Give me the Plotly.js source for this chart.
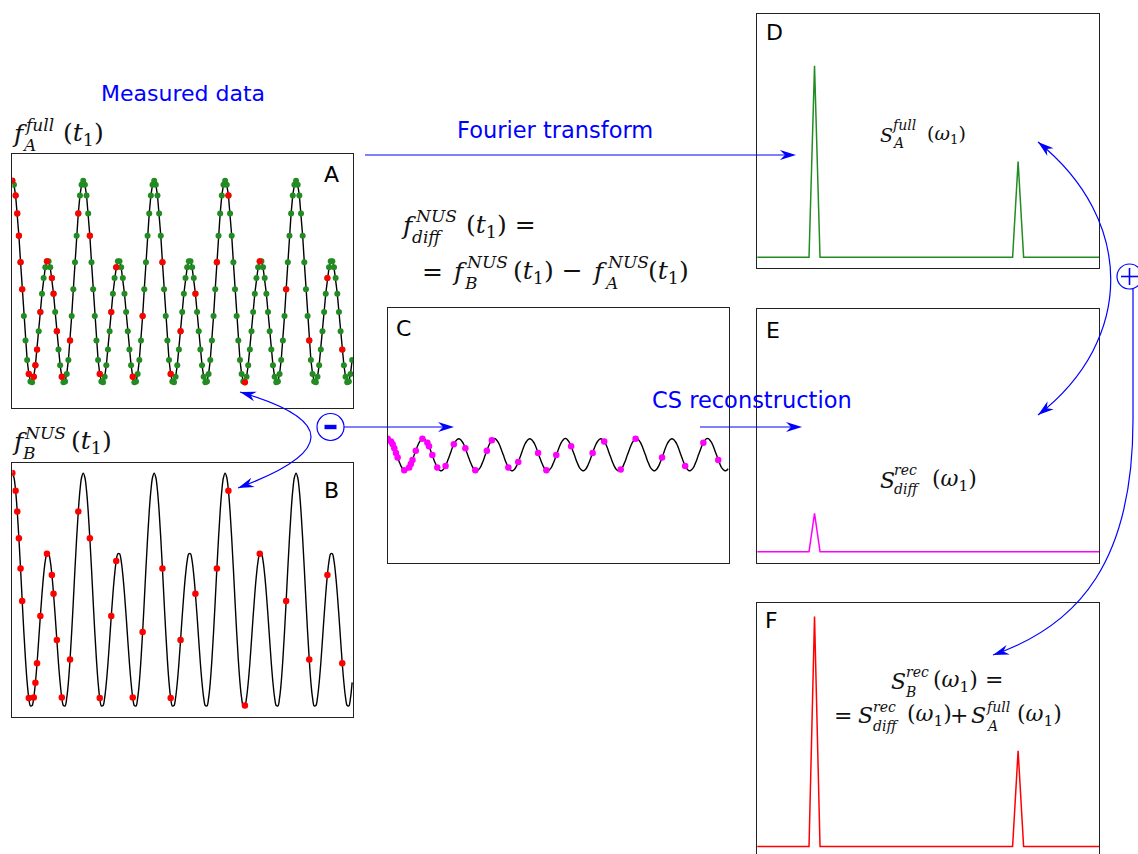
<!DOCTYPE html>
<html><head><meta charset="utf-8">
<script src="https://cdn.plot.ly/plotly-3.0.1.min.js"></script>
<style>html,body{margin:0;padding:0;overflow:hidden;background:#fff;}#chart{width:1138px;height:860px;}</style>
</head><body><div id="chart"></div>
<script>
// ---- time-domain signal samples (sample index 0..206) ----
const fullA = [
3.00,2.90,2.63,2.18,1.62,0.96,0.28,-0.39,-1.00,-1.49,-1.84,-2.03,-2.05,-1.91,-1.62,-1.23,-0.77,-0.29,0.17,0.56,0.83,0.98,0.98,0.83,0.56,0.17,-0.29,-0.77,-1.23,-1.62,-1.91,-2.05,-2.03,-1.84,-1.49,-1.00,-0.39,0.28,0.96,1.62,2.18,2.63,2.90,
3.00,2.90,2.63,2.18,1.62,0.96,0.28,-0.39,-1.00,-1.49,-1.84,-2.03,-2.05,-1.91,-1.62,-1.23,-0.77,-0.29,0.17,0.56,0.83,0.98,0.98,0.83,0.56,0.17,-0.29,-0.77,-1.23,-1.62,-1.91,-2.05,-2.03,-1.84,-1.49,-1.00,-0.39,0.28,0.96,1.62,2.18,2.63,2.90,
3.00,2.90,2.63,2.18,1.62,0.96,0.28,-0.39,-1.00,-1.49,-1.84,-2.03,-2.05,-1.91,-1.62,-1.23,-0.77,-0.29,0.17,0.56,0.83,0.98,0.98,0.83,0.56,0.17,-0.29,-0.77,-1.23,-1.62,-1.91,-2.05,-2.03,-1.84,-1.49,-1.00,-0.39,0.28,0.96,1.62,2.18,2.63,2.90,
3.00,2.90,2.63,2.18,1.62,0.96,0.28,-0.39,-1.00,-1.49,-1.84,-2.03,-2.05,-1.91,-1.62,-1.23,-0.77,-0.29,0.17,0.56,0.83,0.98,0.98,0.83,0.56,0.17,-0.29,-0.77,-1.23,-1.62,-1.91,-2.05,-2.03,-1.84,-1.49,-1.00,-0.39,0.28,0.96,1.62,2.18,2.63,2.90,
3.00,2.90,2.63,2.18,1.62,0.96,0.28,-0.39,-1.00,-1.49,-1.84,-2.03,-2.05,-1.91,-1.62,-1.23,-0.77,-0.29,0.17,0.56,0.83,0.98,0.98,0.83,0.56,0.17,-0.29,-0.77,-1.23,-1.62,-1.91,-2.05,-2.03,-1.84,-1.49
];
const curveB = [
3.40,3.29,2.96,2.44,1.77,1.01,0.20,-0.58,-1.27,-1.84,-2.23,-2.43,-2.42,-2.22,-1.85,-1.36,-0.78,-0.18,0.38,0.85,1.20,1.38,1.38,1.20,0.85,0.38,-0.18,-0.78,-1.36,-1.85,-2.22,-2.42,-2.43,-2.23,-1.84,-1.27,-0.58,0.20,1.01,1.77,2.44,2.96,3.29,
3.40,3.29,2.96,2.44,1.77,1.01,0.20,-0.58,-1.27,-1.84,-2.23,-2.43,-2.42,-2.22,-1.85,-1.36,-0.78,-0.18,0.38,0.85,1.20,1.38,1.38,1.20,0.85,0.38,-0.18,-0.78,-1.36,-1.85,-2.22,-2.42,-2.43,-2.23,-1.84,-1.27,-0.58,0.20,1.01,1.77,2.44,2.96,3.29,
3.40,3.29,2.96,2.44,1.77,1.01,0.20,-0.58,-1.27,-1.84,-2.23,-2.43,-2.42,-2.22,-1.85,-1.36,-0.78,-0.18,0.38,0.85,1.20,1.38,1.38,1.20,0.85,0.38,-0.18,-0.78,-1.36,-1.85,-2.22,-2.42,-2.43,-2.23,-1.84,-1.27,-0.58,0.20,1.01,1.77,2.44,2.96,3.29,
3.40,3.29,2.96,2.44,1.77,1.01,0.20,-0.58,-1.27,-1.84,-2.23,-2.43,-2.42,-2.22,-1.85,-1.36,-0.78,-0.18,0.38,0.85,1.20,1.38,1.38,1.20,0.85,0.38,-0.18,-0.78,-1.36,-1.85,-2.22,-2.42,-2.43,-2.23,-1.84,-1.27,-0.58,0.20,1.01,1.77,2.44,2.96,3.29,
3.40,3.29,2.96,2.44,1.77,1.01,0.20,-0.58,-1.27,-1.84,-2.23,-2.43,-2.42,-2.22,-1.85,-1.36,-0.78,-0.18,0.38,0.85,1.20,1.38,1.38,1.20,0.85,0.38,-0.18,-0.78,-1.36,-1.85,-2.22,-2.42,-2.43,-2.23,-1.84
];
const curveDiff = [
0.40,0.38,0.33,0.26,0.16,0.04,-0.07,-0.18,-0.28,-0.35,-0.39,-0.40,-0.37,-0.32,-0.23,-0.13,-0.01,0.10,0.21,0.30,0.36,0.40,0.40,0.36,0.30,0.21,0.10,-0.01,-0.13,-0.23,-0.32,-0.37,-0.40,-0.39,-0.35,-0.28,-0.18,-0.07,0.04,0.16,0.26,0.33,0.38,
0.40,0.38,0.33,0.26,0.16,0.04,-0.07,-0.18,-0.28,-0.35,-0.39,-0.40,-0.37,-0.32,-0.23,-0.13,-0.01,0.10,0.21,0.30,0.36,0.40,0.40,0.36,0.30,0.21,0.10,-0.01,-0.13,-0.23,-0.32,-0.37,-0.40,-0.39,-0.35,-0.28,-0.18,-0.07,0.04,0.16,0.26,0.33,0.38,
0.40,0.38,0.33,0.26,0.16,0.04,-0.07,-0.18,-0.28,-0.35,-0.39,-0.40,-0.37,-0.32,-0.23,-0.13,-0.01,0.10,0.21,0.30,0.36,0.40,0.40,0.36,0.30,0.21,0.10,-0.01,-0.13,-0.23,-0.32,-0.37,-0.40,-0.39,-0.35,-0.28,-0.18,-0.07,0.04,0.16,0.26,0.33,0.38,
0.40,0.38,0.33,0.26,0.16,0.04,-0.07,-0.18,-0.28,-0.35,-0.39,-0.40,-0.37,-0.32,-0.23,-0.13,-0.01,0.10,0.21,0.30,0.36,0.40,0.40,0.36,0.30,0.21,0.10,-0.01,-0.13,-0.23,-0.32,-0.37,-0.40,-0.39,-0.35,-0.28,-0.18,-0.07,0.04,0.16,0.26,0.33,0.38,
0.40,0.38,0.33,0.26,0.16,0.04,-0.07,-0.18,-0.28,-0.35,-0.39,-0.40,-0.37,-0.32,-0.23,-0.13,-0.01,0.10,0.21,0.30,0.36,0.40,0.40,0.36,0.30,0.21,0.10,-0.01,-0.13,-0.23,-0.32,-0.37,-0.40,-0.39,-0.35
];
// non-uniform sampling schedule (sample indices)
const nusIdx = [0,2,3,4,5,6,10,13,14,15,17,21,24,25,27,30,35,40,47,53,60,63,73,79,91,96,102,111,124,131,141,150,166,180,191,200];

// ---- spectra ----
const omega = [0,1,2,3,4,5,6,7,8,9,10,11,12,13,14,15,16,17,18,19,20,21,22,23,24,25,26,27,28,29,30,31,32,33,34,35,36,37,38,39,40,41,42,43,44,45,46,47,48,49,50,51,52,53,54,55,56,57,58,59,60,61,62,63];
const specFullA   = [0,0,0,0,0,0,0,0,0,0,0,2.0,0,0,0,0,0,0,0,0,0,0,0,0,0,0,0,0,0,0,0,0,0,0,0,0,0,0,0,0,0,0,0,0,0,0,0,0,1.0,0,0,0,0,0,0,0,0,0,0,0,0,0,0,0];
const specRecDiff = [0,0,0,0,0,0,0,0,0,0,0,0.4,0,0,0,0,0,0,0,0,0,0,0,0,0,0,0,0,0,0,0,0,0,0,0,0,0,0,0,0,0,0,0,0,0,0,0,0,0,0,0,0,0,0,0,0,0,0,0,0,0,0,0,0];
const specRecB    = [0,0,0,0,0,0,0,0,0,0,0,2.4,0,0,0,0,0,0,0,0,0,0,0,0,0,0,0,0,0,0,0,0,0,0,0,0,0,0,0,0,0,0,0,0,0,0,0,0,1.0,0,0,0,0,0,0,0,0,0,0,0,0,0,0,0];

// ---- layout helpers ----
const W = 1138, H = 860;
const PX = x => x / W, PY = y => 1 - y / H;
const BLUE = '#0000ff', GREEN = '#228b22';
function dom(x0, x1, y0, y1) { return { x: [PX(x0), PX(x1)], y: [PY(y1), PY(y0)] }; }
function axis(d, range, anchor) {
  return { domain: d, range: range, anchor: anchor, showgrid: false, zeroline: false,
    showticklabels: false, ticks: '', showline: true, mirror: true, linecolor: '#222', linewidth: 1, fixedrange: true };
}
const dA = dom(12.3, 353.3, 154.3, 408.3);
const dB = dom(12.3, 353.3, 462.7, 716.7);
const dC = dom(387.7, 729.3, 308.3, 562.7);
const dD = dom(757.3, 1099, 14.3, 268.3);
const dE = dom(757.3, 1099, 309, 562.7);
const dF = dom(757.3, 1099, 603.3, 857.5);
const tRange = [0, 206.7], yRange = [-2.7, 3.66];
const wRange = [0.6, 62.7], sRange = [-0.115, 2.538];

const nusA = nusIdx.map(i => fullA[i]);
const nusB = nusIdx.map(i => curveB[i]);
const nusD = nusIdx.map(i => curveDiff[i]);

const sk = { hoverinfo: 'skip', type: 'scatter' };
const traces = [
  { ...sk, mode: 'lines', y: fullA, x0: 0, dx: 1, line: { color: '#000', width: 1.4 }, xaxis: 'x', yaxis: 'y' },
  { ...sk, mode: 'markers', y: fullA, x0: 0, dx: 1, marker: { color: GREEN, size: 6 }, xaxis: 'x', yaxis: 'y' },
  { ...sk, mode: 'markers', x: nusIdx, y: nusA, marker: { color: '#ff0000', size: 6.3 }, xaxis: 'x', yaxis: 'y' },
  { ...sk, mode: 'lines', y: curveB, x0: 0, dx: 1, line: { color: '#000', width: 1.4, shape: 'spline' }, xaxis: 'x2', yaxis: 'y2' },
  { ...sk, mode: 'markers', x: nusIdx, y: nusB, marker: { color: '#ff0000', size: 6.5 }, xaxis: 'x2', yaxis: 'y2' },
  { ...sk, mode: 'lines', y: curveDiff, x0: 0, dx: 1, line: { color: '#000', width: 1.4, shape: 'spline' }, xaxis: 'x3', yaxis: 'y3' },
  { ...sk, mode: 'markers', x: nusIdx, y: nusD, marker: { color: '#ff00ff', size: 6.5 }, xaxis: 'x3', yaxis: 'y3' },
  { ...sk, mode: 'lines', x: omega, y: specFullA, line: { color: GREEN, width: 1.5 }, xaxis: 'x4', yaxis: 'y4' },
  { ...sk, mode: 'lines', x: omega, y: specRecDiff, line: { color: '#ff00ff', width: 1.5 }, xaxis: 'x5', yaxis: 'y5' },
  { ...sk, mode: 'lines', x: omega, y: specRecB, line: { color: '#ff0000', width: 1.5 }, xaxis: 'x6', yaxis: 'y6' }
];

// ---- decorations: arrows, circles ----
const pth = s => s.replace(/(-?\d+\.?\d*),(-?\d+\.?\d*)/g, (m, a, b) => PX(+a).toFixed(5) + ',' + PY(+b).toFixed(5));
function curve(s) { return { type: 'path', xref: 'paper', yref: 'paper', path: pth(s), line: { color: BLUE, width: 1.2 }, fillcolor: 'rgba(0,0,0,0)' }; }
function seg(x0, y0, x1, y1, w) { return { type: 'line', xref: 'paper', yref: 'paper', x0: PX(x0), y0: PY(y0), x1: PX(x1), y1: PY(y1), line: { color: BLUE, width: w || 1.2 } }; }
function head(tx, ty, dx, dy) {
  const L = Math.hypot(dx, dy), ux = dx / L, uy = dy / L, nx = -uy, ny = ux;
  const len = 16, hw = 5, notch = 5;
  const p = (a, b) => PX(a).toFixed(5) + ',' + PY(b).toFixed(5);
  return { type: 'path', xref: 'paper', yref: 'paper',
    path: 'M ' + p(tx, ty) + ' L ' + p(tx - len * ux + hw * nx, ty - len * uy + hw * ny) +
          ' L ' + p(tx - (len - notch) * ux, ty - (len - notch) * uy) +
          ' L ' + p(tx - len * ux - hw * nx, ty - len * uy - hw * ny) + ' Z',
    fillcolor: BLUE, line: { width: 0 } };
}
function circ(cx, cy, r) { return { type: 'circle', xref: 'paper', yref: 'paper', x0: PX(cx - r), x1: PX(cx + r), y0: PY(cy + r), y1: PY(cy - r), line: { color: BLUE, width: 1.2 } }; }

const shapes = [
  seg(365, 155, 790, 155), head(796, 155, 1, 0),
  circ(330.5, 427, 13.5),
  { type: 'rect', xref: 'paper', yref: 'paper', x0: PX(324.5), x1: PX(336.5), y0: PY(429.2), y1: PY(424.8), fillcolor: BLUE, line: { width: 0 } },
  seg(344, 427, 448, 427), head(454, 427, 1, 0),
  seg(700, 427, 796, 427), head(802, 427, 1, 0),
  curve('M 240,392 C 335,420 335,452 238,488'), head(240, 392, -95, -28), head(238, 488, -97, 36),
  curve('M 1038,142 C 1135,220 1135,340 1038,415'), head(1038, 142, -97, -78), head(1038, 415, -97, 75),
  circ(1129.5, 276.5, 12.5),
  seg(1121, 276.5, 1138, 276.5, 1.6), seg(1129.5, 268, 1129.5, 285, 1.6),
  curve('M 1133,289 L 1133,420 C 1133,560 1080,625 993,655'), head(993, 655, -87, 30)
];

// ---- text ----
const ann = [];
function txt(t, x, y, size, color, family, xanchor) {
  ann.push({ xref: 'paper', yref: 'paper', x: PX(x), y: PY(y), text: t, showarrow: false,
    xanchor: xanchor || 'center', yanchor: 'middle', borderpad: 0, font: { family: family, size: size, color: color } });
}
const SANS = 'DejaVu Sans', SERIF = 'DejaVu Serif';
txt('Measured data', 183, 93, 22, BLUE, SANS);
txt('Fourier transform', 555, 130, 22.5, BLUE, SANS);
txt('CS reconstruction', 752, 400, 22.5, BLUE, SANS);
txt('A', 331.3, 174.5, 22, '#000', SANS);
txt('B', 331.7, 490, 22, '#000', SANS);
txt('C', 403, 328.7, 22, '#000', SANS);
txt('D', 774.5, 32.5, 22, '#000', SANS);
txt('E', 773, 330.8, 22, '#000', SANS);
txt('F', 771.7, 620.5, 22, '#000', SANS);

const mathPieces = [
  ['<i>f</i>', 11, 142, 25], ['<i>full</i>', 23, 131, 17], ['<i>A</i>', 21, 151, 17], ['(<i>t</i><sub>1</sub>)', 62, 142, 25],
  ['<i>f</i>', 11, 450, 25], ['<i>NUS</i>', 23, 439, 17], ['<i>B</i>', 21, 459, 17], ['(<i>t</i><sub>1</sub>)', 70, 450, 25],
  ['<i>f</i>', 400, 234, 25], ['<i>NUS</i>', 414, 222, 17], ['<i>diff</i>', 411, 243, 17], ['(<i>t</i><sub>1</sub>) =', 465, 234, 25],
  ['=', 421, 280, 25], ['<i>f</i>', 451, 280, 25], ['<i>NUS</i>', 465, 268, 17], ['<i>B</i>', 463, 289, 17], ['(<i>t</i><sub>1</sub>) \u2212', 512, 280, 25],
  ['<i>f</i>', 591, 280, 25], ['<i>NUS</i>', 606, 268, 17], ['<i>A</i>', 603, 289, 17], ['(<i>t</i><sub>1</sub>)', 647, 280, 25],
  ['<i>S</i>', 879, 141, 19], ['<i>full</i>', 891, 130, 14], ['<i>A</i>', 891, 148, 14], ['(<i>\u03c9</i><sub>1</sub>)', 926, 141, 19],
  ['<i>S</i>', 879, 488, 22], ['<i>rec</i>', 893, 475, 14], ['<i>diff</i>', 893, 494, 14], ['(<i>\u03c9</i><sub>1</sub>)', 931, 488, 22],
  ['<i>S</i>', 890, 689, 22], ['<i>rec</i>', 905, 677, 14], ['<i>B</i>', 904, 697, 14], ['(<i>\u03c9</i><sub>1</sub>) =', 932, 689, 22],
  ['=', 833, 723, 22], ['<i>S</i>', 857, 723, 22], ['<i>rec</i>', 872, 712, 14], ['<i>diff</i>', 872, 731, 14], ['(<i>\u03c9</i><sub>1</sub>)', 906, 723, 22], ['+', 949, 723, 22],
  ['<i>S</i>', 970, 723, 22], ['<i>full</i>', 985, 712, 14], ['<i>A</i>', 985, 731, 14], ['(<i>\u03c9</i><sub>1</sub>)', 1016, 723, 22]
];
mathPieces.forEach(p => txt(p[0], p[1], p[2] - 0.33 * p[3], p[3], '#111', SERIF, 'left'));

const layout = {
  width: W, height: H, autosize: false, margin: { l: 0, r: 0, t: 0, b: 0 },
  paper_bgcolor: '#fff', plot_bgcolor: '#fff', showlegend: false,
  xaxis: axis(dA.x, tRange, 'y'), yaxis: axis(dA.y, yRange, 'x'),
  xaxis2: axis(dB.x, tRange, 'y2'), yaxis2: axis(dB.y, yRange, 'x2'),
  xaxis3: axis(dC.x, tRange, 'y3'), yaxis3: axis(dC.y, yRange, 'x3'),
  xaxis4: axis(dD.x, wRange, 'y4'), yaxis4: axis(dD.y, sRange, 'x4'),
  xaxis5: axis(dE.x, wRange, 'y5'), yaxis5: axis(dE.y, sRange, 'x5'),
  xaxis6: axis(dF.x, wRange, 'y6'), yaxis6: axis(dF.y, sRange, 'x6'),
  shapes: shapes, annotations: ann
};
Plotly.newPlot('chart', traces, layout, { staticPlot: true, displayModeBar: false });
</script>
</body></html>
